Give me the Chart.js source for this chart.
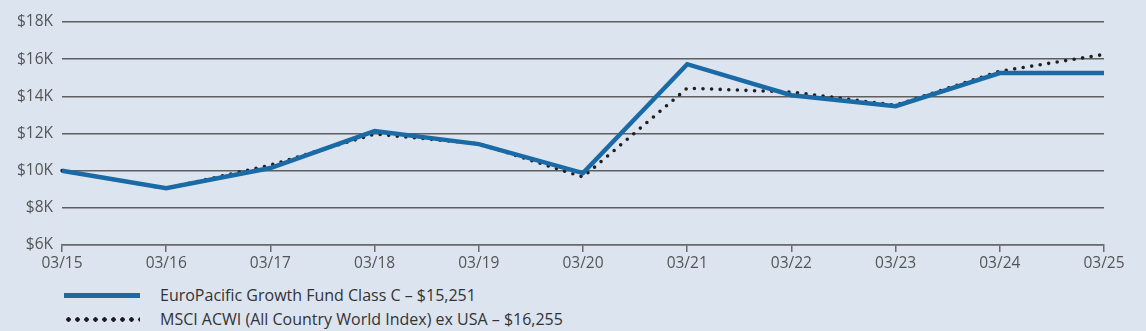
<!DOCTYPE html>
<html>
<head>
<meta charset="utf-8">
<script src="https://cdn.jsdelivr.net/npm/chart.js@4.4.1/dist/chart.umd.min.js"></script>
<style>
  html, body { margin: 0; padding: 0; background: #dce4f0; }
  #wrap { position: relative; width: 1146px; height: 331px; }
  #growth { position: absolute; left: 0; top: 0; }
  .legend { position: absolute; left: 64px; top: 0; font-family: "Open Sans", Lato, sans-serif; font-size: 16px; color: #333; }
  .legend .row { position: absolute; left: 0; white-space: nowrap; display: flex; align-items: center; height: 20px; }
  .legend .swatch { width: 76px; margin-right: 20px; }
  .legend .solid { height: 5px; background: #1a6aa6; }
  .legend .dots { height: 5px; background-image: radial-gradient(circle, #1e1e1e 2px, transparent 2.5px); background-size: 9px 5px; background-position: 0 0; }
</style>
</head>
<body>
<div id="wrap">
  <canvas id="growth" width="1146" height="274"></canvas>
  <div class="legend" id="legend"></div>
</div>
<script>
const periods = ['03/15', '03/16', '03/17', '03/18', '03/19', '03/20', '03/21', '03/22', '03/23', '03/24', '03/25'];
const fundValues = [10000, 9060, 10140, 12130, 11430, 9870, 15730, 14060, 13470, 15250, 15251];
const indexValues = [10000, 9040, 10300, 11970, 11450, 9660, 14440, 14230, 13520, 15350, 16255];
const yTicks = [6000, 8000, 10000, 12000, 14000, 16000, 18000];
const seriesNames = [
    'EuroPacific Growth Fund Class C \u2013 $15,251',
    'MSCI ACWI (All Country World Index) ex USA \u2013 $16,255'
];

const tickFont = { family: '"Open Sans", Lato, sans-serif', size: 15.5 };

new Chart(document.getElementById('growth').getContext('2d'), {
    type: 'line',
    data: {
        labels: periods,
        datasets: [{
            label: seriesNames[0],
            data: fundValues,
            borderColor: '#1a6aa6',
            borderWidth: 4.5,
            pointRadius: 0,
            tension: 0,
            borderJoinStyle: 'miter'
        }, {
            label: seriesNames[1],
            data: indexValues,
            borderColor: '#1e1e1e',
            borderWidth: 3.6,
            borderDash: [0, 8.6],
            borderCapStyle: 'round',
            pointRadius: 0,
            tension: 0
        }]
    },
    options: {
        responsive: false,
        animation: false,
        layout: { padding: { top: 22, right: 42, left: 0, bottom: 0 } },
        plugins: {
            legend: { display: false },
            tooltip: { enabled: false }
        },
        scales: {
            x: {
                offset: false,
                afterFit: (scale) => { scale.height = 29; },
                border: { display: true, color: '#6a6a6a', width: 1.5 },
                grid: {
                    drawOnChartArea: false,
                    drawTicks: true,
                    tickLength: 7,
                    color: '#6a6a6a',
                    lineWidth: 1.5
                },
                ticks: { color: '#555', font: tickFont, padding: 2, maxRotation: 0, autoSkip: false }
            },
            y: {
                min: 6000,
                max: 18000,
                afterFit: (scale) => { scale.width = 62; },
                afterBuildTicks: (scale) => { scale.ticks = yTicks.map(v => ({ value: v })); },
                border: { display: false },
                grid: {
                    drawTicks: false,
                    color: '#5f5f5f',
                    lineWidth: 1.5
                },
                ticks: {
                    color: '#555',
                    font: tickFont,
                    padding: 9,
                    callback: (v) => '$' + (v / 1000) + 'K'
                }
            }
        }
    }
});

// legend rows under the plot
const legend = document.getElementById('legend');
[['solid', 295], ['dots', 319]].forEach(([kind, y], i) => {
    const row = document.createElement('div');
    row.className = 'row';
    row.style.top = (y - 10) + 'px';
    const sw = document.createElement('div');
    sw.className = 'swatch ' + kind;
    const txt = document.createElement('span');
    txt.textContent = seriesNames[i];
    row.appendChild(sw);
    row.appendChild(txt);
    legend.appendChild(row);
});
</script>
</body>
</html>
